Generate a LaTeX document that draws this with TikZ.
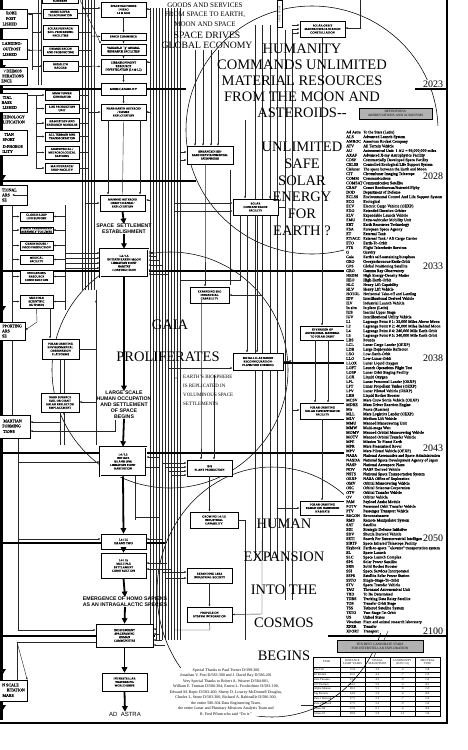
\documentclass[tikz,border=0pt]{standalone}
\usepackage{fontspec}
\setmainfont{Liberation Serif}
\newfontfamily\hv{Liberation Sans}
\newfontfamily\dfont{Liberation Serif}[FakeBold=0.7]
\usetikzlibrary{arrows.meta,calc}
\tikzset{
  bx/.style={draw=black, fill=white, line width=0.6pt, inner sep=0.3pt, align=center, font=\dfont\fontsize{3}{3.5}\selectfont},
  dbx/.style={bx, double, double distance=0.7pt, line width=0.5pt},
  ln/.style={draw=black!85, line width=0.42pt},
  ar/.style={ln, -{Latex[length=2.3pt,width=1.9pt]}},
  thk/.style={line width=1.8pt},
  tar/.style={line width=1.8pt, -{Triangle[length=5.5pt,width=5.5pt]}},
  bigtxt/.style={font=\fontsize{14.5}{16}\selectfont, inner sep=0},
  bld/.style={font=\hv\bfseries\fontsize{5.2}{5.9}\selectfont, align=center, inner sep=0},
  ring/.style={draw=black, line width=0.55pt},
  frag/.style={anchor=east, inner sep=0, font=\dfont\fontsize{4}{5}\selectfont},
}
\newcommand\B[7][]{\node[bx,#1,minimum width={#5-#3},minimum height={#6-#4}] (#2) at ({(#3+#5)/2},{(#4+#6)/2}) {#7};}
\newcommand\D[2]{\makebox[17pt][l]{#1}#2\\}
\newcommand\F[3]{\node[frag] at (#1,#2) {#3};}
\begin{document}
\begin{tikzpicture}[x=1pt,y=-1pt]
\useasboundingbox (0,0) rectangle (467,750);
\clip (0,0) rectangle (467,750);
\fill[white] (0,0) rectangle (467,750);

% ---------- rings ----------
\draw[ring] (312,130) ellipse [x radius=126, y radius=124];
\draw[ring] (170,370) circle [radius=118];
\draw[ring] (272,592) ellipse [x radius=115, y radius=125];

% ---------- thin buses ----------
\foreach \x in {82,85,88,91,94} \draw[ln] (\x,0) -- (\x,290);
\foreach \x in {38,41} \draw[ln] (\x,0) -- (\x,85);
\foreach \x in {150,153,156,159,162,165,168,171,174,177,180} \draw[ln] (\x,8) -- (\x,640);
\foreach \x in {195,203,211,218} \draw[ar] (\x,50) -- (\x,146);
\foreach \x in {255,262,270,277} \draw[ln] (\x,25) -- (\x,560);
\foreach \x in {285,292} \draw[ln] (\x,30) -- (\x,600);
\foreach \x in {60,64} \draw[ln] (\x,360) -- (\x,445);
\draw[ln] (96,290) -- (96,445);
\draw[ln] (32,14) -- (32,70);
\draw[ln] (36,95) -- (36,168);
\draw[ln] (12,205) -- (12,420);
\draw[ln] (65,205) -- (65,310);
\draw[ln] (18,433) -- (18,630);
\draw[ln] (17,642) -- (17,680);
\draw[ln] (230,170) -- (230,285);
\draw[ln] (135,476) -- (135,520);

% ---------- year lines ----------
\draw[thk] (0,89) -- (186,89);   \draw[thk] (415,89) -- (447,89);
\draw[thk] (0,181) -- (196,181); \draw[thk] (415,181) -- (447,181);
\draw[thk] (0,271) -- (447,271);
\draw[thk] (283,363) -- (447,363);
\draw[thk] (0,453) -- (447,453);
\draw[thk] (0,543) -- (165,543); \draw[thk] (420,543) -- (447,543);
\draw[thk] (0,636) -- (155,636); \draw[thk] (328,636) -- (447,636);
\draw[line width=2pt] (0,723) -- (448,723);
\draw[line width=2pt] (447,0) -- (447,723);
\draw[line width=2.8pt] (1.5,0) -- (1.5,720);
\foreach \y in {32,72,182,313,676,712} \fill (-3,\y-7) -- (6,\y-7) -- (1.5,\y) -- cycle;

% ---------- left boxes (cut by the sheet edge) ----------
\B{L1}{-40}{9}{27}{28}{}
\F{17}{13}{ROBE}\F{16}{18.5}{POST}\F{17}{24}{LISHED}
\B{L2}{-40}{39}{27}{59}{}
\F{22}{43.5}{LANDING-}\F{21}{49}{OUTPOST}\F{17}{54.5}{LISHED}
\B{L3}{-40}{67}{27}{85}{}
\F{22}{71}{'/ DEIMOS}\F{24}{76}{PERATIONS}\F{12}{81}{ENCE}
\B{L4}{-40}{93}{27}{112}{}
\F{12}{97.5}{TIAL}\F{12}{102.5}{BASE}\F{17}{107.5}{LISHED}
\node[frag] (L5) at (25,117) {CHNOLOGY};
\F{25}{122}{LIFICATION}
\B{L6}{-40}{130}{27}{155}{}
\F{14}{134.5}{TIAN}\F{15}{139.5}{SPORT}\F{23}{146.5}{D-PHOBOS}\F{13}{151.5}{ILITY}
\B{L7}{-40}{185}{27}{205}{}
\F{17}{190}{TIONAL}\F{10}{195}{ARS}\F{7}{200}{SE}
\B{L8}{-40}{322}{25}{340}{}
\F{22}{326}{PPORTING}\F{10}{331}{ARS}\F{7}{336}{SE}
\B{L9}{-40}{415}{30}{438}{}
\F{22}{421}{MARTIAN}\F{21}{426}{FORMING}\F{15}{431.5}{TIONS}
\B{L10}{-40}{680}{27}{701}{}
\F{19}{685}{N SCALE}\F{25}{690}{BITATION}\F{14}{695.5}{MARS}

% ---------- column 2 ----------
\B[font=\dfont\fontsize{2.6}{3}\selectfont]{a0}{42}{-2}{78}{3.5}{SUBURBAN}
\B{a1}{43}{9}{77}{18}{MARS ROVER\\TELEOPERATION}
\B{a2}{43}{25}{78}{39}{SOLAR FURNACE/\\SOIL PROCESSING\\FACILITIES}
\B{a3}{43}{46}{78}{55}{DEIMOS RECON\\AND PROSPECTING}
\B{a4}{43}{61}{78}{71}{REGOLITH\\BAGGER}
\B{a5}{45}{90}{79}{100}{MMW POWER\\GENERATOR}
\B{a6}{45}{104}{79}{113}{LOX PRODUCTION\\UNIT}
\B{a7}{45}{118}{79}{128}{HABITATION AND\\RESEARCH MODULES}
\B{a8}{45}{132}{79}{141}{ALL TERRAIN MPR\\TRANSPORTATION}
\B{a9}{45}{146}{79}{159}{GEOPHYSICAL /\\METEOROLOGICAL\\STATIONS}
\B{a10}{45}{163}{79}{173}{MAINTENANCE/\\SHOP FACILITY}
\B{b1}{20}{212}{53}{221}{CLOSED-LOOP\\LIFE SUPPORT}
\B{b2}{20}{227}{53}{233}{LARGE PRESSURIZED\\ASSEMBLY VOLUMES}
\B{b3}{20}{241}{53}{250}{GREEN HOUSE /\\FOOD PRODUCTION}
\B{b4}{20}{255}{53}{264}{MEDICAL\\FACILITY}
\B{b5}{20}{270}{53}{283}{INDIGENOUS\\RESOURCE\\CONSTRUCTION}
\B{b6}{20}{295}{53}{308}{MULTIPLE\\SCIENTIFIC\\OUTPOSTS}
\B{b7}{42}{339}{79}{359}{POLAR ORBITING\\ENVIRONMENTAL\\OBSERVATION\\PLATFORMS}
\B{b8}{41}{393}{79}{412}{DARK SURFACE\\SOIL OR GIANT\\SOLAR REFLECTOR\\EMPLACEMENT}

% connectors column 2
\draw[ar] (L1.east |- a1) -- (a1.west);
\draw[ar] (32,32) -- (a2.west);
\draw[ar] (32,50) -- (a3.west);
\draw[ar] (32,66) -- (a4.west);
\draw[ar] (32,14) -- (L1.east |- 14,14);
\draw[ar] (32,50) -- (L2.east |- 50,50);
\draw[ar] (L4.east |- a5) -- (a5.west);
\foreach \n in {a6,a7,a8,a9,a10} \draw[ar] (36,0 |- \n) -- (\n.west);
\foreach \n in {b1,b2,b3,b4,b5,b6} {\draw[ar] (12,0 |- \n) -- (\n.west); \draw[ar] (65,0 |- \n) -- (\n.east);}
\draw[ar] (L7.east |- 195,195) -- (12,195);
\draw[ar] (50,308) -- (b7.north -| 50,0);
\draw[ar] (b6.south) -- (37,322) -- (L8.east |- 322,330);
\draw[ln] (b8.south) -- (60,422);
\draw[ar] (60,422) -- (L9.east |- 422,422);
\draw[ar] (115,420) -- (115,431) -- (L9.east |- 431,431);
\foreach \n in {a1,a2,a3,a4} \draw[ln] (\n.east) -- (91,0 |- \n);
\foreach \n in {a5,a6,a7,a8,a9,a10} \draw[ln] (\n.east) -- (88,0 |- \n);
\draw[ar] (b7.east) -- (96,349) -- (96,300);
\draw[ar] (64,445) -- (64,412);

% ---------- central column ----------
\B{c1}{101}{2}{146}{17}{SPACE FACTORIES\\IN KEO\\L4 \& GEO}
\B{c2}{101}{33}{146}{40}{SPACE COMMERCE}
\B{c3}{101}{44}{146}{55}{VARIABLE ``g'' ANIMAL\\RESEARCH FACILITIES}
\B{c4}{101}{59}{146}{74}{LIBRATION POINT\\RESOURCE\\INVESTIGATION (L4 \& L5)}
\B[line width=1pt]{c5}{101}{83}{146}{95}{MDBS CAPABILITY}
\B{c6}{101}{104}{146}{120}{NEAR-EARTH ASTEROID\\/ COMET\\EXPLOITATION}
\B{c7}{100}{195}{145}{211}{MANNED ASTEROID\\ORBIT CHANGE /\\EXPLOITATION}
\node[bld] (t1) at (124,229) {SPACE\ \ SETTLEMENT\\ESTABLISHMENT};
\B[dbx]{c8}{100}{249}{148}{277}{L4 / L5\\INITIATE EARTH-MOON\\LIBRATION POINT\\HABITAT\\CONSTRUCTION}
\node[bld] (t2) at (124,405) {LARGE SCALE\\HUMAN OCCUPATION\\AND SETTLEMENT\\OF SPACE\\BEGINS};
\B[dbx]{c9}{100}{447}{146}{476}{L4 / L5\\INITIATE\\ISLAND ONE\\LIBRATION POINT\\HABITATION}
\B{c10}{101}{534}{146}{549}{L4 / L5\\ISLAND TWO}
\B{c11}{101}{553}{146}{578}{L4 / L5\\MULTIPLE\\SETTLEMENT\\CONSTRUCTION}
\node[bld] (t3) at (125,602) {EMERGENCE OF HOMO SAPIENS\\AS AN INTRAGALACTIC SPECIES};
\B{c12}{96}{624}{153}{647}{INDEPENDENT\\SPACEFARING\\HUMAN\\COMMUNITIES}
\B{c13}{102}{673}{147}{691}{INTERSTELLAR\\TRAVERSING\\WORLD SHIPS}
\node[font=\hv\fontsize{6}{7}\selectfont, inner sep=0] (t4) at (125,714) {AD\ \ ASTRA};

\draw[ar] (c1) -- (c2);
\draw[ar] (c2) -- (c3);
\draw[ar] (c3) -- (c4);
\draw[ar] (c4) -- (c5);
\draw[ar] (c5) -- (c6);
\draw[ln] (c6.south) -- (c7.north);
\draw[ar] (c6.south -| 140,0) -- (c7.north -| 140,0);
\draw[ar] (c6.south -| 108,0) -- (c7.north -| 108,0);
\draw[tar] (c7.south) -- (t1.north);
\draw[tar] (t1.south) -- (c8.north);
\draw[tar] (c8.south) -- (t2.north);
\draw[tar] (t2.south) -- (c9.north);
\draw[tar] (c9.south) -- (c10.north);
\draw[tar] (c10.south) -- (c11.north);
\draw[tar] (c11.south) -- (t3.north);
\draw[tar] (t3.south) -- (c12.north);
\draw[tar] (c12.south) -- (c13.north);
\draw[tar] (c13.south) -- (t4.north);
\draw[ar] (91,36) -- (c2.west);
\draw[ar] (91,66) -- (c4.west);
\draw[ar] (88,112) -- (c6.west);
\draw[ar] (85,203) -- (c7.west);
\draw[ar] (82,8) -- (c1.west |- 8,8);
\draw[ar] (80,0) -- (c3.north west);
\foreach \y in {253,258,263,268} \draw[ar] (65,\y) -- (c8.west |- 0,\y);
\foreach \y/\x in {252/153,256/156,260/159,265/162,270/165,274/168} \draw[ar] (\x,\y) -- (c8.east |- 0,\y);
\foreach \y in {9,62,112,200} \draw[ar] (150,\y) -- (146,\y);
\draw[ar] (t2.west |- 402,402) -- (b8.east |- 402,402);
\draw[ar] (18,462) -- (c9.west |- 462,462);
\draw[ar] (159,457) -- (c9.east |- 457,457);
\draw[ln] (135,476) -- (135,517) -- (160,517);
\draw[ln] (146,467) -- (160,467);
\draw[ar] (18,539) -- (c10.west |- 539,539);
\draw[ar] (163,539) -- (c10.east |- 539,539);
\draw[ar] (167,563) -- (c11.east |- 563,563);
\draw[ar] (171,569) -- (c11.east |- 569,569);
\draw[ar] (18,630) -- (c12.west |- 630,630);
\draw[ln] (c12.west |- 642,642) -- (17,642);
\draw[ar] (17,642) -- (L10.east |- 680,680);
\foreach \y/\x in {629/156,634/159,640/162,645/165} \draw[ar] (\x,\y) -- (c12.east |- 0,\y);

% ---------- column D ----------
\B{d1}{187}{146}{233}{164}{ENHANCED ISIS-\\EARTH ENVIRONMENTAL\\PATHFINDER}
\B{d2}{233}{199}{278}{215}{SOLAR\\CONCENTRATOR\\FACILITY}
\B{d3}{190}{287}{229}{303}{EXPANDING SEO\\INDUSTRIAL\\CAPABILITY}
\B{d4}{233}{353}{283}{370}{METALLIC ASTEROID\\RECONFIGURATION-\\PLANETOID FORMING}
\B{d5}{187}{460}{232}{476}{ISIS\\PLANT PRODUCTION}
\B{d6}{190}{512}{238}{528}{GROWING L4 /L5\\INDUSTRIAL\\CAPABILITY}
\B{d7}{187}{568}{232}{583}{EXPANDING L4/L5\\INDUSTRIAL SOCIETY}
\B{d8}{187}{607}{232}{622}{PROPULSION\\SYSTEM INTEGRATION}
\draw[ar] (180,152) -- (d1.west |- 152,152);
\draw[ar] (180,160) -- (d1.west |- 160,160);
\draw[ar] (174,203) -- (d2.west |- 203,203);
\draw[ar] (174,211) -- (d2.west |- 211,211);
\draw[ar] (245,120) -- (d2.north -| 245,0);
\draw[ar] (270,100) -- (d2.north -| 270,0);
\draw[ar] (d2.south -| 247,0) -- (d4.north -| 247,0);
\draw[ar] (d2.south -| 257,0) -- (d4.north -| 257,0);
\draw[ln] (d2.south -| 240,0) -- (240,280) -- (180,280);
\draw[ar] (262,295) -- (d3.east);
\draw[ar] (d1.south -| 205,0) -- (205,240) -- (d3.north -| 205,0);
\draw[ln] (d2.east) -- (285,207);
\draw[ar] (168,368) -- (d4.west |- 368,368);
\draw[ar] (201,300) -- (201,440) -- (d5.north -| 201,0);
\draw[ar] (214,375) -- (d5.north -| 214,0);
\foreach \y/\x in {463/162,467/165,471/168,475/171} \draw[ar] (\x,\y) -- (d5.west |- 0,\y);
\draw[ar] (d5.south) -- (d6.north -| d5.south);
\draw[ln] (d6.east) -- (245,520) -- (245,640);
\draw[ar] (d7.south) -- (d8.north);
\foreach \y/\x in {572/162,578/165} \draw[ar] (\x,\y) -- (d7.west |- 0,\y);
\draw[ar] (262,540) -- (262,614) -- (d8.east);
\draw[ln] (d8.south) -- (210,630) -- (174,630);

% ---------- right column E ----------
\B{e1}{300}{21}{345}{37}{POLAR ORBIT\\MANNED SPACE STATION\\CONSTELLATION}
\B{e2}{300}{326}{345}{340}{DIVERSION OF\\ASTEROIDAL MATERIAL\\TO POLAR ORBIT}
\B{e3}{300}{403}{345}{419}{POLAR ORBITING\\SOLAR CONCENTRATOR\\FACILITY}
\B{e4}{300}{501}{345}{515}{POLAR ORBITING\\RADIATION HARDENED\\HABITATS}
\node[draw, line width=0.4pt, fill=white, minimum width=5, minimum height=27, inner sep=0] (v1) at (279.5,14) {};
\node[rotate=90, font=\fontsize{2.5}{3}\selectfont] at (v1) {SPACE XPORT};
\foreach \y in {25,29,33} \draw[ar] (292,\y) -- (e1.west |- 0,\y);
\draw[ar] (360,0) -- (360,28) -- (e1.east |- 28,28);
\draw[ln] (e1.south -| 322,0) -- (322,320);
\draw[ar] (322,318) -- (e2.north -| 322,0);
\draw[ar] (e2.south -| 315,0) -- (e3.north -| 315,0);
\draw[ar] (e2.south -| 328,0) -- (e3.north -| 328,0);
\draw[ar] (e3.south -| 322,0) -- (e4.north -| 322,0);
\draw[ar] (292,410) -- (e3.west |- 410,410);
\draw[ar] (277,508) -- (e4.west |- 508,508);
\draw[ar] (d4.east |- 361,361) -- (292,361);

% ---------- headline texts ----------
\node[font=\fontsize{7}{9.7}\selectfont, align=center, inner sep=0] (g1) at (205,14.5) {GOODS AND SERVICES\\FROM SPACE TO EARTH,\\MOON AND SPACE};
\node[font=\fontsize{9.7}{10.5}\selectfont, align=center, inner sep=0] (g2) at (207,40.5) {SPACE DRIVES\\GLOBAL ECONOMY};
\node[bigtxt, align=center] (h1) at (302,81) {HUMANITY\\COMMANDS UNLIMITED\\MATERIAL RESOURCES\\FROM THE MOON AND\\ASTEROIDS-{}-};
\node[font=\fontsize{14.5}{16.7}\selectfont, align=center, inner sep=0] (h2) at (302,189) {UNLIMITED\\SAFE\\SOLAR\\ENERGY\\FOR\\EARTH ?};
\node[bigtxt] (h3) at (170,325) {GAIA};
\node[bigtxt] (h4) at (168,357) {PROLIFERATES};
\node[font=\fontsize{5}{9}\selectfont, align=left, inner sep=0, anchor=north west] (h5) at (183,375) {EARTH'S BIOSPHERE\\IS REPLICATED IN\\VOLUMINOUS SPACE\\SETTLEMENTS};
\fill (176,378) circle (0.6);
\node[font=\fontsize{14.5}{33}\selectfont, align=center, inner sep=0] (h6) at (284,590) {HUMAN\\EXPANSION\\INTO THE\\COSMOS\\BEGINS};

% ---------- thanks ----------
\node[fill=white, font=\fontsize{4}{5.5}\selectfont, align=center, inner sep=0.5] (thx) at (226,692) {Special Thanks to Paul Turner D/399-300\\Jonathan V. Post D/583-300 and J. David Ray D/586-201\\Very Special Thanks to Robert A. Weaver D/584-001,\\William E. Truman D/586-304, Ernest L. Frochichino D/583-100,\\Edward M. Repic D/583-400, Sherry D. Lowrey McDonnell Douglas,\\Charles L. Stone D/583-300, Richard A. Rabinaille D/586-300,\\the entire 586-304 Data Engineering Team,\\the entire Lunar and Planetary Missions Analysis Team and\\R. Fred Pflum who said ``Do it.''};

% ---------- definitions ----------
\fill[white] (344,126) rectangle (446,633);
\node[draw, fill=black!30, line width=0.6pt, minimum width=73, minimum height=11, inner sep=0, align=center, font=\fontsize{3.4}{4}\selectfont] (defh) at (395.5,113.5) {DEFINITIONS,\\ABBREVIATIONS AND ACRONYMS};
\node[anchor=north west, inner sep=0, font=\dfont\fontsize{4}{4.62}\selectfont] (defs) at (346,130) {\renewcommand\arraystretch{1}\begin{tabular}{@{}l@{}}
\D{Ad Astra}{To the Stars (Latin)}
\D{ALS}{Advanced Launch System}
\D{AMROC}{American Rocket Company}
\D{ATV}{All Terrain Vehicle}
\D{AU}{Astronomical Unit: 1 AU = 93,000,000 miles}
\D{AXAF}{Advanced X-ray Astrophysics Facility}
\D{CDSF}{Commercially Developed Space Facility}
\D{CELSS}{Controlled Ecological Life Support System}
\D{Cislunar}{The space between the Earth and Moon}
\D{CIT}{Circumlunar Imaging Telescope}
\D{COMM}{Communications}
\D{COMSAT}{Communication Satellite}
\D{CRAF}{Comet Rendezvous/Asteroid Flyby}
\D{DOD}{Department of Defense}
\D{ECLSS}{Environmental Control And Life Support System}
\D{ECO}{Ecological}
\D{ECV}{Electric Cargo Vehicle (OEXP)}
\D{EDO}{Extended Duration Orbiter}
\D{ELV}{Expendable Launch Vehicle}
\D{EMU}{Extra-vehicular Mobility Unit}
\D{ERT}{Earth Resources Technology}
\D{ESA}{European Space Agency}
\D{ET}{External Tank}
\D{ET/ACC}{External Tank / Aft Cargo Carrier}
\D{ETO}{Earth-To-Orbit}
\D{FTS}{Flight Telerobotic Services}
\D{G}{Gravity}
\D{Gaia}{Earth's self-sustaining biosphere}
\D{GEO}{Geosynchronous-Earth-Orbit}
\D{GPS}{Global Positioning Satellite}
\D{GRO}{Gamma Ray Observatory}
\D{HEDM}{High Energy-Density Matter}
\D{HEO}{High-Earth-Orbit}
\D{HLC}{Heavy Lift Capability}
\D{HLV}{Heavy Lift Vehicle}
\D{HOTOL}{Horizontal Take-off and Landing}
\D{IDV}{Interlibrational Derived Vehicle}
\D{ILV}{Industrial Launch Vehicle}
\D{In-situ}{In place (Latin)}
\D{IUS}{Inertial Upper Stage}
\D{IUV}{Interlibrational Utility Vehicle}
\D{L1}{Lagrange Point \# 1: 35,000 Miles Above Moon}
\D{L2}{Lagrange Point \# 2: 40,000 Miles Behind Moon}
\D{L4}{Lagrange Point \# 4: 240,000 Mile Earth Orbit}
\D{L5}{Lagrange Point \# 5: 240,000 Mile Earth Orbit}
\D{LBS}{Pounds}
\D{LCL}{Lunar Cargo Lander (OEXP)}
\D{LDR}{Large Deployable Reflector}
\D{LEO}{Low-Earth-Orbit}
\D{LLO}{Low-Lunar-Orbit}
\D{LLOX}{Lunar Liquid Oxygen}
\D{LOFT}{Launch Operations Flight Test}
\D{LOSF}{Lunar Orbit Staging Facility}
\D{LOX}{Liquid Oxygen}
\D{LPL}{Lunar Personnel Lander (OEXP)}
\D{LPT}{Lunar Propellant Tanker (OEXP)}
\D{LPV}{Lunar Piloted Vehicle (OEXP)}
\D{LRB}{Liquid Rocket Booster}
\D{MCSV}{Mars Crew Sortie Vehicle (OEXP)}
\D{MDRE}{Mass Driver Reaction Engine}
\D{Mir}{Peace (Russian)}
\D{MLL}{Mars Logistics Lander (OEXP)}
\D{MLV}{Medium Lift Vehicle}
\D{MMU}{Manned Maneuvering Unit}
\D{MMW}{Multi-mega Watt}
\D{MOMV}{Manned Orbital Maneuvering Vehicle}
\D{MOTV}{Manned Orbital Transfer Vehicle}
\D{MPE}{Mission To Planet Earth}
\D{MPR}{Mars Pressurized Rover}
\D{MPV}{Mars Piloted Vehicle (OEXP)}
\D{NASA}{National Aeronautics and Space Administration}
\D{NASDA}{National Space Development Agency of Japan}
\D{NASP}{National Aerospace Plane}
\D{NDV}{NASP Derived Vehicle}
\D{NSTS}{National Space Transportation System}
\D{OEXP}{NASA Office of Exploration}
\D{OMV}{Orbital Maneuvering Vehicle}
\D{OSC}{Orbital Sciences Corporation}
\D{OTV}{Orbital Transfer Vehicle}
\D{OV}{Orbiter Vehicle}
\D{PAM}{Payload Assist Module}
\D{POTV}{Personnel Orbit Transfer Vehicle}
\D{PTV}{Passenger Transport Vehicle}
\D{RECON}{Reconnaissance}
\D{RMS}{Remote Manipulator System}
\D{SAT}{Satellite}
\D{SDI}{Strategic Defense Initiative}
\D{SDV}{Shuttle Derived Vehicle}
\D{SETI}{Search For Extraterrestrial Intelligence}
\D{SIRTF}{Space Infrared Telescope Facility}
\D{Skyhook}{Earth-to-space ``elevator'' transportation system}
\D{SL}{Space Launch}
\D{SLC}{Space Launch Complex}
\D{SPS}{Solar Power Satellite}
\D{SRB}{Solid Rocket Booster}
\D{SSI}{Space Services Incorporated}
\D{SSPS}{Satellite Solar Power Station}
\D{SSTO}{Single-Stage-To-Orbit}
\D{STV}{Space Transfer Vehicle}
\D{TAU}{Thousand Astronomical Unit}
\D{TBD}{To Be Determined}
\D{TDRS}{Tracking Data Relay Satellite}
\D{TOS}{Transfer Orbit Stage}
\D{TSS}{Tethered Satellite System}
\D{TSTO}{Two-Stage-To-Orbit}
\D{US}{United States}
\D{Vivarium}{Plant and animal research laboratory}
\D{XFER}{Transfer}
\makebox[17pt][l]{XPORT}Transport
\end{tabular}};

% ---------- years ----------
\foreach \y/\t in {89/2023,181/2028,271/2033,363/2038,453/2043,543/2050,636/2100}
  \node[anchor=south east, font=\fontsize{10}{10}\selectfont, inner sep=0.8, fill=white] at (444,\y-0.5) {\t};

% ---------- stars table ----------
\draw[ln] (388,631) -- (384,640);
\node[draw, fill=black!30, line width=0.6pt, minimum width=86, minimum height=12, inner sep=0, align=center, font=\fontsize{3.4}{4}\selectfont] (tabh) at (380,646) {TEN BEST CANDIDATE STARS\\FOR INTERSTELLAR EXPLORATION};
\draw[ln] (tabh.south -| 376,0) -- (374,657);
\begin{scope}[font=\fontsize{2.9}{3.3}\selectfont]
\draw[line width=0.7pt] (313,657) rectangle (440,716);
\draw[line width=0.5pt] (313,667) -- (440,667);
\foreach \x in {340,365,390,415} \draw[line width=0.5pt] (\x,657) -- (\x,716);
\foreach \i in {1,...,9} \draw[line width=0.3pt] (313,667+4.9*\i) -- (440,667+4.9*\i);
\node[align=center, inner sep=0] at (326.5,662) {STAR};
\node[align=center, inner sep=0] at (352.5,662) {DISTANCE\\LIGHT YEARS};
\node[align=center, inner sep=0] at (377.5,662) {VISUAL\\MAGNITUDE};
\node[align=center, inner sep=0] at (402.5,662) {LUMINOSITY\\(SUN=1.0)};
\node[align=center, inner sep=0] at (427.5,662) {SPECTRAL\\TYPE};
\foreach \s/\d/\v/\l/\t [count=\i] in {Tau Ceti/11.8/3.5/.4/G8, 82 Eridani/20.2/4.3/.7/G5, Zeta Tucanae/23.3/4.3/.9/G2, 107 Piscium/24.3/5.2/.4/K1, Alpha Mensae/28.3/5.1/.8/G5, Sig Pavonis/34.8/5.9/.4/K0, Zeta 1 Reticuli/37.5/5.5/.7/G2, Zeta 2 Reticuli/37.5/5.2/.9/G2, Gliese 86/37.8/6.1/.4/K0, Gliese 67/38.8/5.0/1.2/G0} {
  \node[anchor=west, inner sep=0] at (314,664.5+4.9*\i) {\s};
  \node[inner sep=0] at (352.5,664.5+4.9*\i) {\d};
  \node[inner sep=0] at (377.5,664.5+4.9*\i) {\v};
  \node[inner sep=0] at (402.5,664.5+4.9*\i) {\l};
  \node[inner sep=0] at (427.5,664.5+4.9*\i) {\t};
}
\end{scope}
\draw[ln] (301,705) -- (313,705);
\end{tikzpicture}
\end{document}
